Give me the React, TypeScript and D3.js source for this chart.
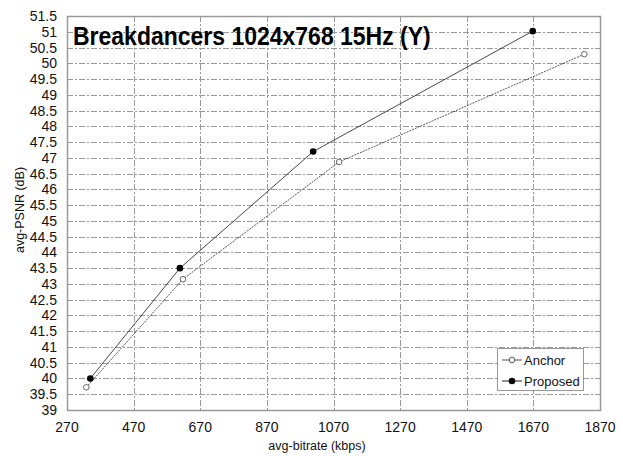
import React, { useRef, useEffect } from "react";
import * as d3 from "d3";

// values
const anchorRate = [328, 618, 1087, 1823];
const anchorPsnr = [39.72, 43.15, 46.87, 50.29];
const proposedRate = [340, 609, 1009, 1668];
const proposedPsnr = [40.0, 43.5, 47.2, 51.02];
const xTicks = [270, 470, 670, 870, 1070, 1270, 1470, 1670, 1870];
const yTicks = d3.range(39, 51.51, 0.5);
const seriesNames = ["Anchor", "Proposed"];

const W = 623;
const H = 456;
const margin = { left: 67, top: 16, right: 23, bottom: 46 };

const App = () => {
  const svgRef = useRef<SVGSVGElement>(null);

  useEffect(() => {
    const svg = d3.select(svgRef.current);
    svg.selectAll("*").remove();
    const pw = W - margin.left - margin.right;
    const ph = H - margin.top - margin.bottom;

    const x = d3.scaleLinear().domain([270, 1870]).range([0, pw]);
    const y = d3.scaleLinear().domain([39, 51.5]).range([ph, 0]);

    svg.append("rect").attr("width", W).attr("height", H).attr("fill", "#fff");

    const g = svg.append("g").attr("transform", `translate(${margin.left},${margin.top})`);

    // grid
    g.append("g")
      .selectAll("line")
      .data(yTicks.slice(1, -1))
      .enter()
      .append("line")
      .attr("x1", 0)
      .attr("x2", pw)
      .attr("y1", d => Math.round(y(d)) + 0.5)
      .attr("y2", d => Math.round(y(d)) + 0.5)
      .attr("stroke", "#999")
      .attr("stroke-width", 1)
      .attr("stroke-dasharray", "6,2,2,2");
    g.append("g")
      .selectAll("line")
      .data(xTicks.slice(1, -1))
      .enter()
      .append("line")
      .attr("x1", d => Math.round(x(d)) + 0.5)
      .attr("x2", d => Math.round(x(d)) + 0.5)
      .attr("y1", 0)
      .attr("y2", ph)
      .attr("stroke", "#999")
      .attr("stroke-width", 1)
      .attr("stroke-dasharray", "6,2,2,2");

    // frame
    g.append("rect")
      .attr("x", 0.5)
      .attr("y", 0.5)
      .attr("width", pw)
      .attr("height", ph)
      .attr("fill", "none")
      .attr("stroke", "#999")
      .attr("stroke-width", 1.5);

    // axes labels
    const font = "Liberation Sans, Arial, sans-serif";
    svg.append("g")
      .selectAll("text")
      .data(yTicks)
      .enter()
      .append("text")
      .attr("x", margin.left - 10)
      .attr("y", d => margin.top + y(d) + 5)
      .attr("text-anchor", "end")
      .attr("font-family", font)
      .attr("font-size", 14)
      .attr("fill", "#111")
      .text(d => d3.format("~g")(d));
    svg.append("g")
      .selectAll("text")
      .data(xTicks)
      .enter()
      .append("text")
      .attr("x", d => margin.left + x(d))
      .attr("y", margin.top + ph + 22)
      .attr("text-anchor", "middle")
      .attr("font-family", font)
      .attr("font-size", 14)
      .attr("fill", "#111")
      .text(d => d);

    svg.append("text")
      .attr("x", 317)
      .attr("y", 450)
      .attr("text-anchor", "middle")
      .attr("font-family", font)
      .attr("font-size", 12.5)
      .attr("fill", "#111")
      .text("avg-bitrate (kbps)");
    svg.append("text")
      .attr("transform", `translate(24,210) rotate(-90)`)
      .attr("text-anchor", "middle")
      .attr("font-family", font)
      .attr("font-size", 12.5)
      .attr("fill", "#111")
      .text("avg-PSNR (dB)");

    // title
    svg.append("text")
      .attr("transform", `translate(73,45) scale(1,1.15)`)
      .attr("font-family", font)
      .attr("font-weight", "bold")
      .attr("font-size", 23)
      .attr("fill", "#000")
      .text("Breakdancers 1024x768 15Hz (Y)");

    const line = d3.line<[number, number]>().x(d => x(d[0])).y(d => y(d[1]));
    const anchor: [number, number][] = anchorRate.map((r, i) => [r, anchorPsnr[i]]);
    const proposed: [number, number][] = proposedRate.map((r, i) => [r, proposedPsnr[i]]);

    g.append("path")
      .datum(anchor)
      .attr("d", line)
      .attr("fill", "none")
      .attr("stroke", "#444")
      .attr("stroke-width", 0.9)
      .attr("stroke-dasharray", "2,1");
    g.append("path")
      .datum(proposed)
      .attr("d", line)
      .attr("fill", "none")
      .attr("stroke", "#333")
      .attr("stroke-width", 0.9);

    g.append("g")
      .selectAll("circle")
      .data(anchor)
      .enter()
      .append("circle")
      .attr("cx", d => x(d[0]))
      .attr("cy", d => y(d[1]))
      .attr("r", 2.8)
      .attr("fill", "#fff")
      .attr("stroke", "#555")
      .attr("stroke-width", 0.9);
    g.append("g")
      .selectAll("circle")
      .data(proposed)
      .enter()
      .append("circle")
      .attr("cx", d => x(d[0]))
      .attr("cy", d => y(d[1]))
      .attr("r", 3.3)
      .attr("fill", "#000");

    // legend
    const lg = svg.append("g").attr("transform", "translate(497,348)");
    lg.append("rect")
      .attr("x", 0.5)
      .attr("y", 0.5)
      .attr("width", 86)
      .attr("height", 42)
      .attr("fill", "#fff")
      .attr("stroke", "#333")
      .attr("stroke-width", 1)
      .attr("stroke-dasharray", "1,1");
    seriesNames.forEach((name, i) => {
      const cy = 12 + i * 21;
      lg.append("line")
        .attr("x1", 5)
        .attr("x2", 25)
        .attr("y1", cy)
        .attr("y2", cy)
        .attr("stroke", i === 0 ? "#555" : "#222")
        .attr("stroke-width", 1);
      lg.append("circle")
        .attr("cx", 15)
        .attr("cy", cy)
        .attr("r", i === 0 ? 2.8 : 3.3)
        .attr("fill", i === 0 ? "#fff" : "#000")
        .attr("stroke", i === 0 ? "#555" : "none");
      lg.append("text")
        .attr("x", 27)
        .attr("y", cy + 5)
        .attr("font-family", font)
        .attr("font-size", 13)
        .attr("fill", "#111")
        .text(name);
    });
  }, []);

  return (
    <svg
      ref={svgRef}
      width={W}
      height={H}
      style={{ position: "absolute", left: 0, top: 0 }}
    ></svg>
  );
};

export default App;
